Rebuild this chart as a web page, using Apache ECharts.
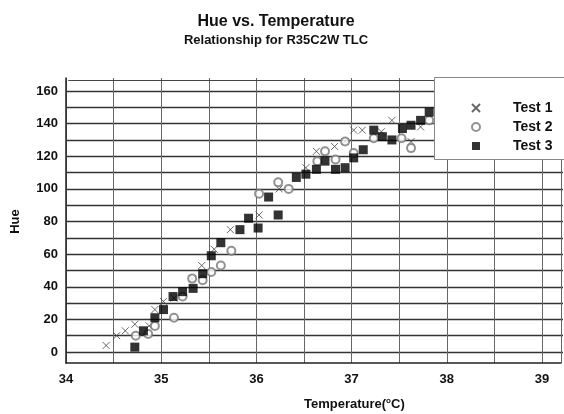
<!DOCTYPE html>
<html>
<head>
<meta charset="utf-8">
<script src="https://cdn.jsdelivr.net/npm/echarts@6/dist/echarts.min.js"></script>
<style>
  html, body { margin: 0; padding: 0; background: #fff; }
  #chart { width: 564px; height: 414px; }
</style>
</head>
<body>
<div id="chart"></div>
<script>
// Temperature (deg C) and hue readings for each test run
const test1Temp = [34.42, 34.53, 34.62, 34.72, 34.87, 34.93, 35.02, 35.13, 35.32, 35.42, 35.55, 35.72,
                   36.02, 36.23, 36.51, 36.62, 36.81, 36.92, 37.01, 37.10, 37.30, 37.41, 37.61, 37.71];
const test1Hue  = [4, 10, 13, 17, 16, 26, 31, 33, 45, 53, 63, 75,
                   84, 100, 113, 123, 126, 129, 136, 136, 135, 142, 129, 138];

const test2Temp = [34.73, 34.86, 34.93, 35.13, 35.22, 35.32, 35.43, 35.52, 35.62, 35.73, 36.02,
                   36.22, 36.33, 36.63, 36.71, 36.82, 36.92, 37.01, 37.22, 37.51, 37.61, 37.80];
const test2Hue  = [10, 11, 16, 21, 34, 45, 44, 49, 53, 62, 97,
                   104, 100, 117, 123, 118, 129, 122, 131, 131, 125, 142];

const test3Temp = [34.72, 34.81, 34.93, 35.02, 35.12, 35.22, 35.33, 35.43, 35.52, 35.62, 35.82, 35.91,
                   36.01, 36.12, 36.22, 36.41, 36.51, 36.62, 36.71, 36.82, 36.92, 37.01, 37.11, 37.22,
                   37.31, 37.41, 37.52, 37.61, 37.71, 37.80];
const test3Hue  = [3, 13, 21, 26, 34, 37, 39, 48, 59, 67, 75, 82,
                   76, 95, 84, 107, 109, 112, 117, 112, 113, 119, 124, 136,
                   132, 130, 137, 139, 142, 147];

const seriesNames = ['Test 1', 'Test 2', 'Test 3'];
const xTickLabels = [34, 35, 36, 37, 38, 39];
const yTickLabels = [0, 20, 40, 60, 80, 100, 120, 140, 160];

function pairs(xs, ys) { return xs.map((x, i) => [x, ys[i]]); }

const FONT = '"Liberation Sans", Arial, sans-serif';
const crossPath = 'path://M0,0 L10,10 M10,0 L0,10';

const chart = echarts.init(document.getElementById('chart'), null, { renderer: 'canvas' });

chart.setOption({
  backgroundColor: '#ffffff',
  animation: false,
  title: {
    text: 'Hue vs. Temperature',
    subtext: 'Relationship for R35C2W TLC',
    left: 271,
    top: 9,
    textAlign: 'center',
    itemGap: 4,
    textStyle: { fontFamily: FONT, fontWeight: 'bold', fontSize: 16, color: '#111' },
    subtextStyle: { fontFamily: FONT, fontWeight: 'bold', fontSize: 13, color: '#111' }
  },
  grid: [
    // outer frame: carries the vertical rules and the temperature labels
    { left: 66, right: 1, top: 78, bottom: 51, show: false },
    // hue scale: 0..160 with horizontal rules every 10
    { left: 66, right: 1, top: 91, bottom: 62, show: false }
  ],
  xAxis: [
    {
      gridIndex: 0, type: 'value', min: 34, max: 39.2, interval: 0.5,
      axisLine: { show: true, onZero: false, lineStyle: { color: '#222', width: 1.5 } },
      axisTick: { show: false },
      axisLabel: {
        margin: 10, fontFamily: FONT, fontWeight: 'bold', fontSize: 13, color: '#111',
        formatter: v => (xTickLabels.indexOf(v) >= 0 ? String(v) : '')
      },
      splitLine: { show: true, lineStyle: { color: '#666', width: 1 } }
    },
    {
      gridIndex: 1, type: 'value', min: 34, max: 39.2, show: false,
      splitLine: { show: false }
    }
  ],
  yAxis: [
    {
      gridIndex: 0, type: 'value', min: -7, max: 168,
      axisLine: { show: true, onZero: false, lineStyle: { color: '#222', width: 1.5 } },
      axisTick: { show: false },
      axisLabel: { show: false },
      splitLine: { show: false }
    },
    {
      gridIndex: 1, type: 'value', min: 0, max: 160, interval: 10,
      name: 'Hue', nameLocation: 'middle', nameGap: 44, nameRotate: 90,
      nameTextStyle: { fontFamily: FONT, fontWeight: 'bold', fontSize: 13, color: '#111' },
      axisLine: { show: false },
      axisTick: { show: false },
      axisLabel: {
        margin: 8, fontFamily: FONT, fontWeight: 'bold', fontSize: 13, color: '#111',
        formatter: v => (yTickLabels.indexOf(v) >= 0 ? String(v) : '')
      },
      splitLine: { show: true, lineStyle: { color: '#333', width: 1.3 } }
    }
  ],
  legend: {
    data: seriesNames,
    orient: 'vertical',
    left: 466,
    top: 96,
    itemWidth: 8,
    itemHeight: 8,
    itemGap: 5,
    z: 20,
    textStyle: { fontFamily: FONT, fontWeight: 'bold', fontSize: 14, color: '#111', lineHeight: 14, padding: [0, 0, 0, 28] }
  },
  graphic: [
    {
      type: 'rect', z: 15, left: 434, top: 77,
      shape: { width: 140, height: 82 },
      style: { fill: '#ffffff', stroke: '#888', lineWidth: 1 }
    },
    {
      type: 'text', left: 304, top: 397, z: 10,
      style: {
        text: 'Temperature({sup|o}C)',
        textAlign: 'center',
        font: 'bold 13px ' + FONT,
        fill: '#111',
        rich: { sup: { fontSize: 8, fontWeight: 'bold', fontFamily: FONT, verticalAlign: 'top', padding: [0, 0, 6, 0] } }
      }
    },
    {
      type: 'rect', z: 1, left: 66, top: 78,
      shape: { width: 498, height: 0 },
      style: { fill: 'none', stroke: '#444', lineWidth: 1 }
    }
  ],
  series: [
    {
      name: seriesNames[0], type: 'scatter', xAxisIndex: 1, yAxisIndex: 1,
      symbol: crossPath, symbolSize: 7,
      itemStyle: { color: 'rgba(0,0,0,0)', borderColor: '#444', borderWidth: 1 },
      data: pairs(test1Temp, test1Hue), z: 3
    },
    {
      name: seriesNames[1], type: 'scatter', xAxisIndex: 1, yAxisIndex: 1,
      symbol: 'emptyCircle', symbolSize: 8,
      itemStyle: { color: '#777', borderColor: '#777', borderWidth: 1 },
      data: pairs(test2Temp, test2Hue), z: 3
    },
    {
      name: seriesNames[2], type: 'scatter', xAxisIndex: 1, yAxisIndex: 1,
      symbol: 'rect', symbolSize: 9,
      itemStyle: { color: '#000000' },
      data: pairs(test3Temp, test3Hue), z: 4
    }
  ]
});
</script>
</body>
</html>
